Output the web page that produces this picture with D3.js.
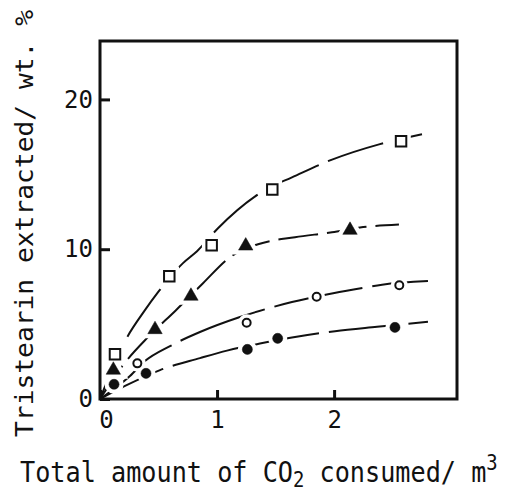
<!DOCTYPE html>
<html>
<head>
<meta charset="utf-8">
<script src="https://cdn.jsdelivr.net/npm/d3@7"></script>
<style>
  body { margin: 0; background: #fff; }
  text { font-family: "DejaVu Sans Mono", monospace; fill: #111; }
</style>
</head>
<body>
<svg id="chart" width="513" height="492"></svg>
<script>
// measured points (x = CO2 consumed m3, y = wt. %)
const squareX   = [0.128, 0.592, 0.954, 1.472, 2.572];
const squareY   = [2.98, 8.2, 10.27, 13.98, 17.2];
const triangleX = [0.114, 0.47, 0.777, 1.245, 2.136];
const triangleY = [1.93, 4.64, 6.87, 10.22, 11.27];
const openX     = [0.319, 1.253, 1.851, 2.557];
const openY     = [2.38, 5.09, 6.82, 7.6];
const filledX   = [0.12, 0.393, 1.259, 1.518, 2.52];
const filledY   = [0.98, 1.71, 3.31, 4.05, 4.78];

// fitted curves
const squareFitX   = [0, 0.214, 0.384, 0.496, 0.709, 0.829, 1.008, 1.435, 1.64, 1.965, 2.384, 2.751];
const squareFitY   = [0, 3.87, 5.93, 7.13, 9.07, 9.87, 11.4, 14.07, 14.8, 15.93, 17.0, 17.67];
const triangleFitX = [0, 0.197, 0.41, 0.649, 0.88, 1.111, 1.35, 1.666, 1.982, 2.221, 2.554];
const triangleFitY = [0, 2.27, 4.13, 5.93, 7.73, 9.47, 10.33, 10.8, 11.13, 11.45, 11.65];
const openFitX     = [0, 0.256, 0.384, 0.598, 0.854, 1.196, 1.64, 1.948, 2.179, 2.41, 2.802];
const openFitY     = [0, 1.53, 2.53, 3.53, 4.47, 5.47, 6.47, 7.0, 7.33, 7.63, 7.87];
const filledFitX   = [0, 0.214, 0.513, 0.854, 1.085, 1.367, 1.64, 2.008, 2.367, 2.802];
const filledFitY   = [0, 0.87, 1.93, 2.73, 3.23, 3.7, 4.1, 4.53, 4.82, 5.15];

const xTicks = [0, 1, 2];
const yTicks = [0, 10, 20];

const svg = d3.select("#chart");
const x = d3.scaleLinear().domain([0, 3.05]).range([100, 457]);
const y = d3.scaleLinear().domain([0, 23.9]).range([399, 41]);

const zip = (xs, ys) => xs.map((v, i) => [v, ys[i]]);
const line = d3.line().x(d => x(d[0])).y(d => y(d[1])).curve(d3.curveMonotoneX);

// curves
const curves = [
  { pts: zip(squareFitX, squareFitY), dash: "58,10" },
  { pts: zip(triangleFitX, triangleFitY), dash: "40,9" },
  { pts: zip(openFitX, openFitY), dash: "90,10" },
  { pts: zip(filledFitX, filledFitY), dash: "70,10" }
];
svg.append("g").selectAll("path")
  .data(curves)
  .join("path")
    .attr("d", d => line(d.pts))
    .attr("fill", "none")
    .attr("stroke", "#111")
    .attr("stroke-width", 2)
    .attr("stroke-dasharray", d => d.dash);

// markers
const series = [
  { pts: zip(squareX, squareY), type: d3.symbolSquare, size: 110, fill: "#fff", sw: 2 },
  { pts: zip(triangleX, triangleY), type: d3.symbolTriangle, size: 90, fill: "#111", sw: 0.5 },
  { pts: zip(openX, openY), type: d3.symbolCircle, size: 50, fill: "#fff", sw: 2 },
  { pts: zip(filledX, filledY), type: d3.symbolCircle, size: 80, fill: "#111", sw: 0.5 }
];
const mg = svg.append("g");
series.forEach(s => {
  const sym = d3.symbol().type(s.type).size(s.size);
  // white halo breaks the curve around each marker
  mg.append("g").selectAll("path")
    .data(s.pts)
    .join("path")
      .attr("d", sym)
      .attr("transform", d => `translate(${x(d[0])},${y(d[1])})`)
      .attr("fill", "#fff")
      .attr("stroke", "#fff")
      .attr("stroke-width", 9);
});
series.forEach(s => {
  const sym = d3.symbol().type(s.type).size(s.size);
  mg.append("g").selectAll("path")
    .data(s.pts)
    .join("path")
      .attr("d", sym)
      .attr("transform", d => `translate(${x(d[0])},${y(d[1])})`)
      .attr("fill", s.fill)
      .attr("stroke", "#111")
      .attr("stroke-width", s.sw);
});

// axes (inward ticks)
const xAxis = svg.append("g")
  .attr("transform", "translate(0,399)")
  .call(d3.axisBottom(x).tickValues(xTicks).tickFormat(d3.format("d"))
    .tickSizeInner(-9).tickSizeOuter(0).tickPadding(12));
const yAxis = svg.append("g")
  .attr("transform", "translate(100,0)")
  .call(d3.axisLeft(y).tickValues(yTicks).tickFormat(d3.format("d"))
    .tickSizeInner(-10).tickSizeOuter(0).tickPadding(7));
[xAxis, yAxis].forEach(a => {
  a.select(".domain").remove();
  a.selectAll("line").attr("stroke", "#111").attr("stroke-width", 3);
  a.selectAll("text").attr("font-family", "DejaVu Sans Mono").attr("font-size", 24).attr("fill", "#111");
});
// the x "0" sits a little right of the corner
xAxis.selectAll(".tick").filter(d => d === 0).select("text").attr("dx", 6);

// frame
svg.append("rect")
  .attr("x", x(0)).attr("y", y(23.9))
  .attr("width", x(3.05) - x(0)).attr("height", y(0) - y(23.9))
  .attr("fill", "none")
  .attr("stroke", "#111")
  .attr("stroke-width", 3);

// axis titles
svg.append("text")
  .attr("transform", "translate(33,437) rotate(-90)")
  .attr("font-size", 25)
  .attr("textLength", 427)
  .attr("lengthAdjust", "spacingAndGlyphs")
  .text("Tristearin extracted/ wt. %");

const xt = svg.append("text")
  .attr("transform", "translate(20,482) scale(0.9,1)")
  .attr("font-size", 28);
xt.append("tspan").text("Total amount of CO");
xt.append("tspan").attr("font-size", 21).attr("dy", 5).text("2");
xt.append("tspan").attr("dy", -5).text(" consumed/ m");
xt.append("tspan").attr("font-size", 21).attr("dy", -12).text("3");
</script>
</body>
</html>
